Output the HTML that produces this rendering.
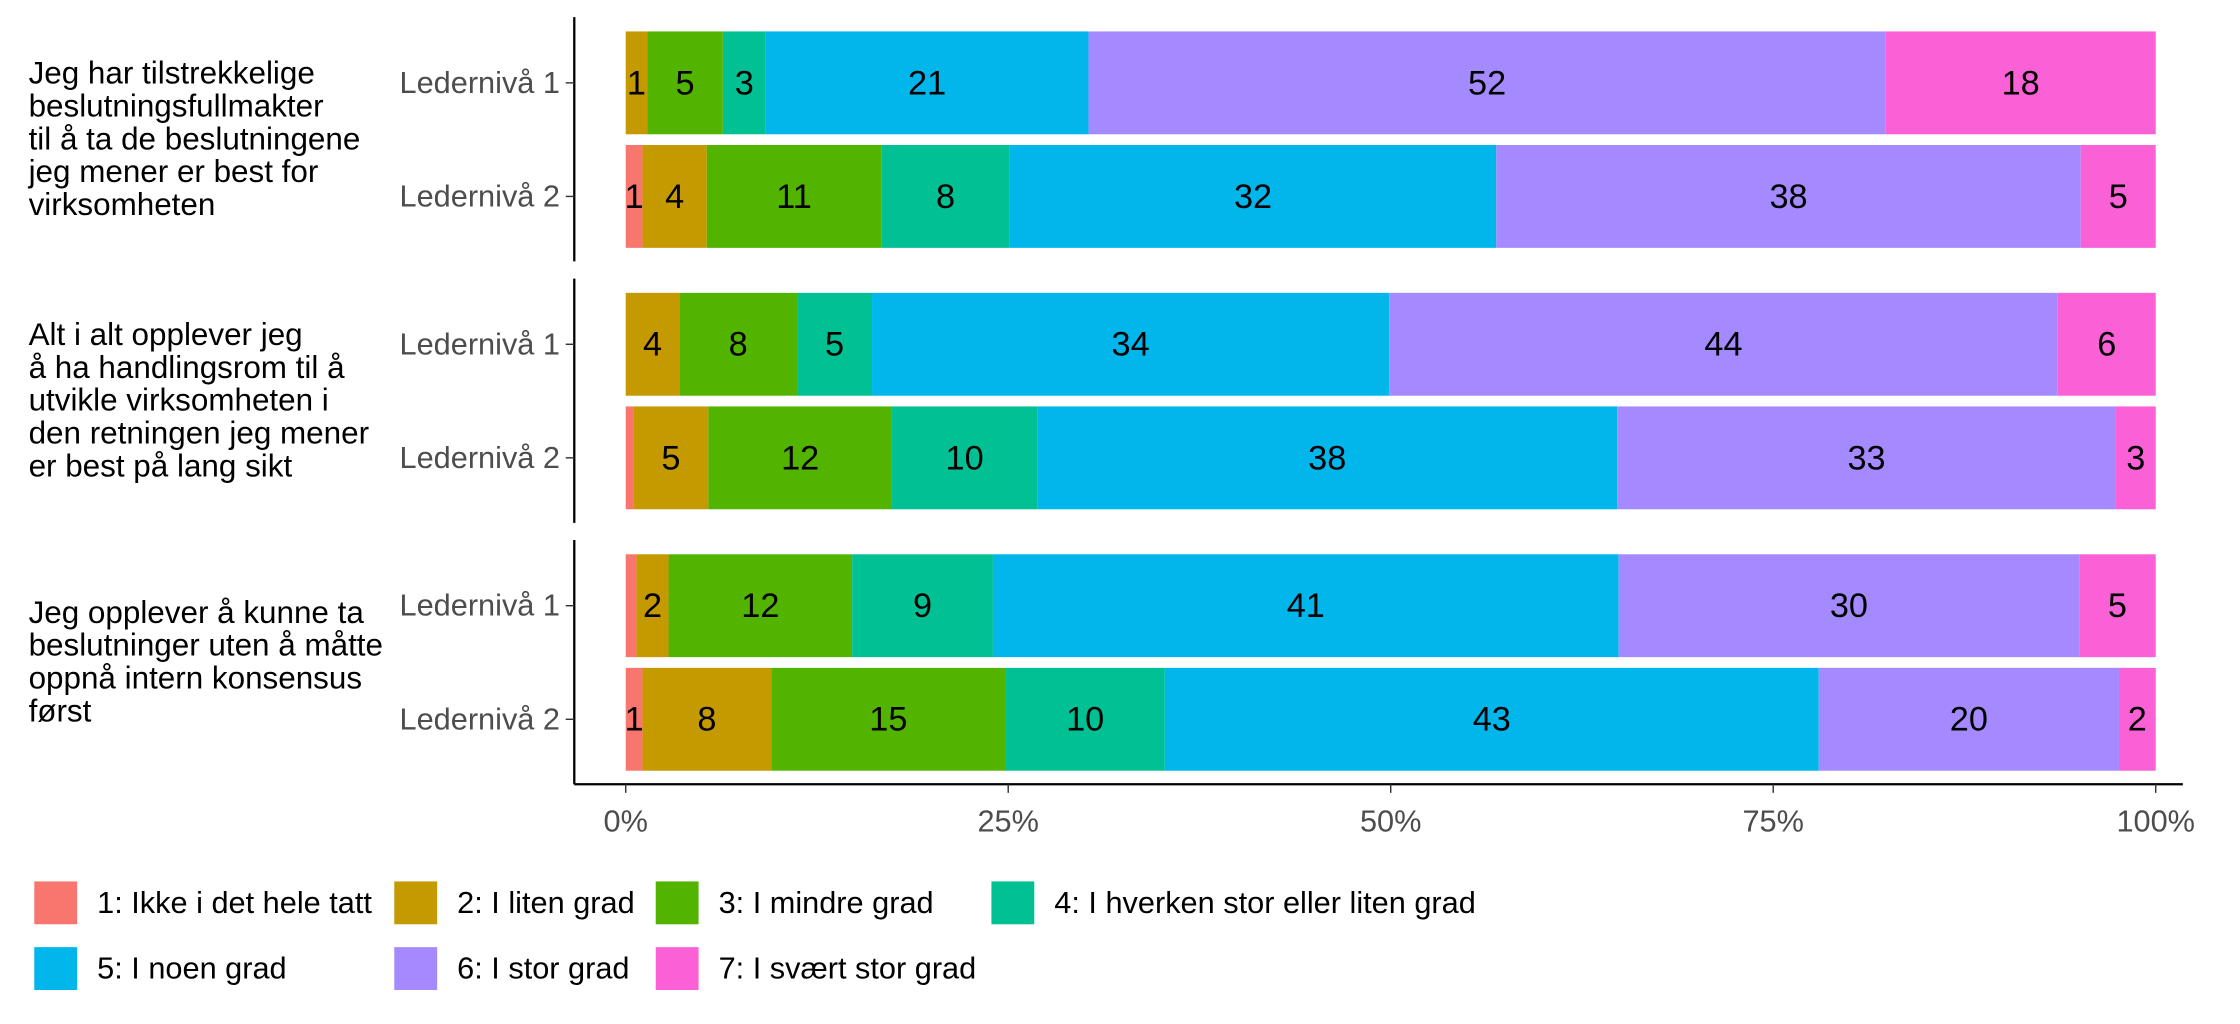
<!DOCTYPE html>
<html><head><meta charset="utf-8"><style>
html,body{margin:0;padding:0;background:#fff;}
svg{display:block;font-family:"Liberation Sans",Arial,sans-serif;}
</style></head><body>
<svg id="chart" width="2240" height="1024" viewBox="0 0 1568 716.8" xmlns="http://www.w3.org/2000/svg"></svg>
<script>
const categories = ["1: Ikke i det hele tatt","2: I liten grad","3: I mindre grad","4: I hverken stor eller liten grad","5: I noen grad","6: I stor grad","7: I svært stor grad"];
const colors = ["#F8766D","#C49A00","#53B400","#00C094","#00B6EB","#A58AFF","#FB61D7"];
const questions = [
  ["Jeg har tilstrekkelige","beslutningsfullmakter","til å ta de beslutningene","jeg mener er best for","virksomheten"],
  ["Alt i alt opplever jeg","å ha handlingsrom til å","utvikle virksomheten i","den retningen jeg mener","er best på lang sikt"],
  ["Jeg opplever å kunne ta","beslutninger uten å måtte","oppnå intern konsensus","først"]
];
const rowLabels = ["Ledernivå 1","Ledernivå 2"];
const q1l1 = [0, 1.4, 4.95, 2.8, 21.1, 52.1, 17.65];
const q1l2 = [1.1, 4.2, 11.4, 8.4, 31.8, 38.2, 4.9];
const q2l1 = [0, 3.5, 7.7, 4.9, 33.8, 43.7, 6.4];
const q2l2 = [0.5, 4.9, 12.0, 9.5, 37.9, 32.6, 2.6];
const q3l1 = [0.7, 2.1, 12.0, 9.2, 40.9, 30.1, 5.0];
const q3l2 = [1.1, 8.4, 15.3, 10.4, 42.7, 19.6, 2.4];
const seriesRows = [[q1l1,q1l2],[q2l1,q2l2],[q3l1,q3l2]];
const xTicks = [0,25,50,75,100];
const xTickLabels = ["0%","25%","50%","75%","100%"];

const NS="http://www.w3.org/2000/svg";
const svg=document.getElementById('chart');
function el(t,a,txt){const e=document.createElementNS(NS,t);for(const k in a)e.setAttribute(k,a[k]);if(txt!==undefined)e.textContent=txt;svg.appendChild(e);return e;}
const X0=438,X1=1509;
const xs=p=>X0+(X1-X0)*p/100;
const panelTop=[12,195,378], panelH=171, barH=72;
const rowCenter=(pi,ri)=>panelTop[pi]+46+ri*79.5;

seriesRows.forEach((rows,pi)=>{
  const ax=el('line',{x1:402,x2:402,y1:panelTop[pi],y2:panelTop[pi]+panelH,stroke:'#000','stroke-width':1.6});
  
  
  const lines=questions[pi];
  const midY=panelTop[pi]+panelH/2;
  lines.forEach((ln,i)=>{
    const t=el('text',{x:20,y:midY+7+(i-(lines.length-1)/2)*23,'font-size':22,fill:'#000'},ln);
    
    
  });
  rows.forEach((vals,ri)=>{
    const cy=rowCenter(pi,ri);
    const rl=el('text',{x:392,y:cy+7,'font-size':21.5,fill:'#4d4d4d','text-anchor':'end'},rowLabels[ri]);
    
    
    el('line',{x1:396,x2:402,y1:cy,y2:cy,stroke:'#333','stroke-width':1});
    const tot=vals.reduce((a,b)=>a+b,0);
    let acc=0;
    vals.forEach((v,k)=>{
      const a=acc/tot*100,b=(acc+v)/tot*100;acc+=v;
      if(v<=0)return;
      const r=el('rect',{x:xs(a),y:cy-barH/2,width:xs(b)-xs(a),height:barH,fill:colors[k]});
      
      
      if(v>=1){
        const t=el('text',{x:(xs(a)+xs(b))/2,y:cy+8,'font-size':24,fill:'#000','text-anchor':'middle'},Math.round(v));
        
        
      }
    });
  });
});
const xa=el('line',{x1:402,x2:1528,y1:549,y2:549,stroke:'#000','stroke-width':1.6});


xTicks.forEach((p,i)=>{
  el('line',{x1:xs(p),x2:xs(p),y1:549,y2:555,stroke:'#333','stroke-width':1});
  const t=el('text',{x:xs(p),y:582,'font-size':21.5,fill:'#4d4d4d','text-anchor':'middle'},xTickLabels[i]);
  
  
});
const legPos=[[24,632],[276,632],[459,632],[694,632],[24,678],[276,678],[459,678]];
categories.forEach((c,i)=>{
  const [lx,ly]=legPos[i];
  const s=el('rect',{x:lx,y:ly-15,width:30,height:30,fill:colors[i]});
  
  
  const t=el('text',{x:lx+44,y:ly+7,'font-size':21.5,fill:'#000'},c);
  
  
});
</script>
</body></html>
